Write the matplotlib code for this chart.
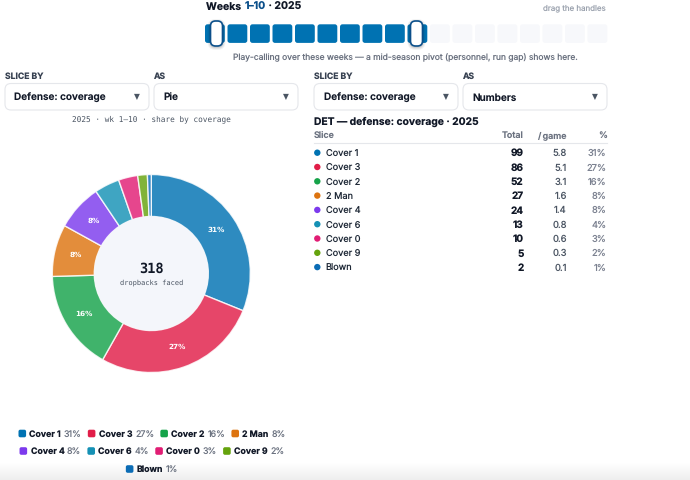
import matplotlib
matplotlib.use('Agg')
import matplotlib.pyplot as plt
from matplotlib.patches import FancyBboxPatch, Circle, Rectangle

plt.rcParams['text.hinting'] = 'none'

# data
slices = ['Cover 1', 'Cover 3', 'Cover 2', '2 Man', 'Cover 4', 'Cover 6', 'Cover 0', 'Cover 9', 'Blown']
totals = [99, 86, 52, 27, 24, 13, 10, 5, 2]
per_game = [5.8, 5.1, 3.1, 1.6, 1.4, 0.8, 0.6, 0.3, 0.1]
shares = [31, 27, 16, 8, 8, 4, 3, 2, 1]
colors = ['#0072B2', '#E11D48', '#16A34A', '#DD7410', '#7C3AED', '#1591B5', '#E11D74', '#65A30D', '#0B6CB5']
n_weeks = 18
weeks_on = 10
total_plays = 318

W, H = 690, 480
UI = 'Inter'
MONO = 'DejaVu Sans Mono'
INK = '#111827'
GREY = '#6b7280'

fig = plt.figure(figsize=(W / 100, H / 100), dpi=100, facecolor='white')
ax = fig.add_axes([0, 0, 1, 1])
ax.set_xlim(0, W)
ax.set_ylim(H, 0)
ax.axis('off')


def rbox(x, y, w, h, r, fc, ec='none', lw=0, z=2, alpha=None):
    p = FancyBboxPatch((x + r, y + r), w - 2 * r, h - 2 * r, boxstyle=f'round,pad={r},rounding_size={r}',
                       fc=fc, ec=ec, lw=lw, zorder=z, alpha=alpha)
    ax.add_patch(p)
    return p


def label(x, y, s, size=7, color=INK, weight='normal', ha='left', family=UI, z=5):
    # y is the middle of the capitals, so mixed texts on a row share one baseline
    return ax.text(x, y + 0.505 * size, s, fontsize=size, color=color, fontweight=weight, ha=ha, va='baseline',
                   family=family, zorder=z)


# fade at the bottom of the screenshot
for k in range(18):
    y = 462 + k
    grey = 255 - int(k * 1.0)
    ax.add_patch(Rectangle((0, y), W, 1.1, fc=(grey / 255,) * 3, ec='none', zorder=0))

# week slider
t = label(205.5, 6.5, 'Weeks ', 7.5, INK, 'bold')
fig.canvas.draw()
x_now = t.get_window_extent().x1
t2 = label(x_now + 1.5, 6.5, '1–10', 7.5, '#0b4f8a', 'bold')
x_now = t2.get_window_extent().x1
label(x_now, 6.5, ' · 2025', 7.5, INK, 'bold')
label(606, 7, 'drag the handles', 5.7, '#9ca3af', ha='right')

for i in range(n_weeks):
    x = 205 + i * 22.5
    rbox(x, 24.3, 19.8, 18.6, 2.5, '#0072B2' if i < weeks_on else '#f7f8fb')
for x in [216.5, 416.5]:
    for grow, a in [(3, 0.05), (2, 0.07), (1, 0.1)]:
        rbox(x - 6 - grow, 21 + 1 - grow, 12 + 2 * grow, 25 + 2 * grow, 5 + grow, '#111827', z=3, alpha=a)
    rbox(x - 6, 21, 12, 25, 5, 'white', '#0b4f8a', 1.2, z=4)
label(405.5, 57, 'Play-calling over these weeks — a mid-season pivot (personnel, run gap) shows here.',
      6.1, GREY, ha='center')

# dropdowns
for x, title in [(5, 'Defense: coverage'), (154, 'Pie'), (314, 'Defense: coverage'), (463, 'Numbers')]:
    rbox(x, 83.5, 144, 26.5, 6, 'white', '#e5e7eb', 0.8)
    label(x + 9.5, 97, title, 7.2, INK, 'semibold')
    ax.text(x + 132, 96.5, '▼', fontsize=5.5, color='#4b5563', ha='center', va='center',
            family='DejaVu Sans', zorder=5)
for x, s in [(5, 'SLICE BY'), (154, 'AS'), (314, 'SLICE BY'), (463, 'AS')]:
    label(x, 76, s, 6.2, '#374151', 'bold')

ax.text(151.5, 119.5, '2025 · wk 1–10 · share by coverage', fontsize=5.6, color='#4b5563', ha='center',
        va='center', family=MONO, zorder=5)

# table
label(314, 121, 'DET — defense: coverage · 2025', 7.4, INK, 'bold')
label(314, 135, 'Slice', 6.4, GREY, 'semibold')
label(523.5, 135, 'Total', 6.4, GREY, 'semibold', ha='right')
label(566.7, 135, '/ game', 6.4, GREY, 'semibold', ha='right')
label(606.7, 135, '%', 6.4, GREY, 'semibold', ha='right')
ax.plot([314, 607], [142.7, 142.7], color='#e5e7eb', lw=0.8, zorder=2)
for i, name in enumerate(slices):
    y = 152.7 + i * 14.3
    ax.add_patch(Circle((317.3, y), 3.2, fc=colors[i], ec='none', zorder=4))
    label(325.7, y, name, 6.6, '#1f2937')
    label(523.5, y, str(totals[i]), 7.2, INK, 'bold', ha='right')
    label(566.7, y, f'{per_game[i]:.1f}', 6.8, '#4b5563', ha='right')
    label(606.7, y, f'{shares[i]}%', 6.7, '#7b8190', ha='right')

# donut
cx, cy, r = 151.3, 273.5, 99
pie_ax = fig.add_axes([(cx - r) / W, 1 - (cy + r) / H, 2 * r / W, 2 * r / H])
wedges, _, autotexts = pie_ax.pie(
    totals, colors=colors, startangle=90, counterclock=False, radius=1,
    autopct=lambda p: f'{p:.0f}%' if p >= 7 else '', pctdistance=0.79,
    wedgeprops={'width': 0.424, 'edgecolor': 'white', 'linewidth': 1.0, 'alpha': 0.82},
    textprops={'color': 'white', 'fontsize': 5.2, 'fontweight': 'bold', 'family': 'DejaVu Sans'})
pie_ax.set_xlim(-1, 1)
pie_ax.set_ylim(-1, 1)
pie_ax.add_patch(Circle((0, 0), 0.576, fc='#f4f6fb', ec='none', zorder=3))
pie_ax.text(0, 0.05, str(total_plays), fontsize=9.8, fontweight='bold', color=INK, family=MONO,
            ha='center', va='center', zorder=4)
pie_ax.text(0, -0.095, 'dropbacks faced', fontsize=5.0, color='#4b5563', family=MONO,
            ha='center', va='center', zorder=4)

# legend, centred rows
fig.canvas.draw()
rend = fig.canvas.get_renderer()

row_y = [433.5, 451, 469]
rows = [[0, 1, 2, 3], [4, 5, 6, 7], [8]]
for y, row in zip(row_y, rows):
    items = []
    full = 0
    for i in row:
        a = label(0, y, slices[i], 6.3, INK, 'bold')
        b = label(0, y, f'{shares[i]}%', 6.4, GREY)
        wa, wb = a.get_window_extent(rend).width, b.get_window_extent(rend).width
        items.append((i, a, b, wa, wb))
        full += 7.6 + 3.4 + wa + 2.6 + wb
    full += 6.2 * (len(row) - 1)
    x = 152 - full / 2
    for i, a, b, wa, wb in items:
        rbox(x, y - 3.8, 7.6, 7.6, 1.8, colors[i])
        x += 7.6 + 3.4
        a.set_x(x)
        x += wa + 2.6
        b.set_x(x)
        x += wb + 6.2

fig.savefig('out.png', dpi=100, facecolor='white')
